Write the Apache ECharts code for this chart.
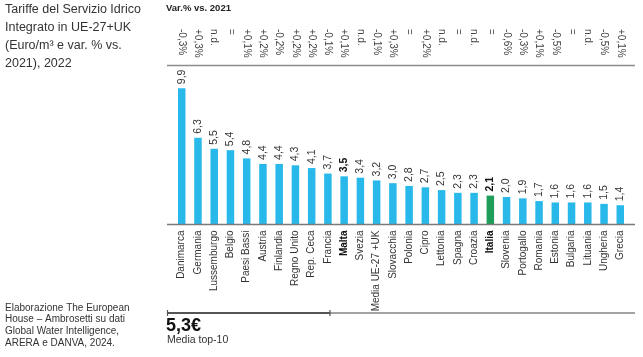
<!DOCTYPE html>
<html>
<head>
<meta charset="utf-8">
<script src="https://cdn.jsdelivr.net/npm/echarts@6/dist/echarts.min.js"></script>
<style>html,body{margin:0;padding:0;background:#fff}#c{width:643px;height:357px}</style>
</head>
<body>
<div id="c"></div>
<script>
const categories = ["Danimarca","Germania","Lussemburgo","Belgio","Paesi Bassi","Austria","Finlandia","Regno Unito","Rep. Ceca","Francia","Malta","Svezia","Media UE-27 +UK","Slovacchia","Polonia","Cipro","Lettonia","Spagna","Croazia","Italia","Slovenia","Portogallo","Romania","Estonia","Bulgaria","Lituania","Ungheria","Grecia"];
const tariffs = [9.9,6.3,5.5,5.4,4.8,4.4,4.4,4.3,4.1,3.7,3.5,3.4,3.2,3.0,2.8,2.7,2.5,2.3,2.3,2.1,2.0,1.9,1.7,1.6,1.6,1.6,1.5,1.4];
const varVs2021 = ["-0,3%","+0,3%","n.d.","=","+0,1%","+0,2%","-0,2%","+0,2%","+0,2%","-0,1%","+0,1%","n.d.","-0,1%","+0,3%","=","+0,2%","n.d.","=","n.d.","=","-0,6%","-0,3%","+0,1%","-0,5%","=","n.d.","-0,5%","+0,1%"];
const boldCats = ["Malta","Italia"];
const highlightCat = "Italia";

const FONT = "'Liberation Sans', Arial, sans-serif";
const BLUE = "#29b8ea";
const GREEN = "#1f9e5a";

const barData = tariffs.map((v, i) => ({
  value: v,
  itemStyle: { color: categories[i] === highlightCat ? GREEN : BLUE },
  label: boldCats.includes(categories[i]) ? { fontWeight: 'bold', color: '#111' } : {}
}));

const chart = echarts.init(document.getElementById('c'), null, { renderer: 'canvas' });
chart.setOption({
  backgroundColor: '#ffffff',
  animation: false,
  grid: { left: 173.6, right: 14.6, top: 65.5, bottom: 132.5, containLabel: false },
  xAxis: [
    {
      type: 'category',
      position: 'bottom',
      data: categories,
      axisLine: { show: false },
      axisTick: { show: false },
      axisLabel: {
        interval: 0,
        rotate: 90,
        margin: 6,
        align: 'right',
        verticalAlign: 'middle',
        fontFamily: FONT,
        fontSize: 10,
        color: '#333',
        formatter: (v) => boldCats.includes(v) ? '{b|' + v + '}' : v,
        rich: { b: { fontWeight: 'bold', fontFamily: FONT, fontSize: 10, color: '#111' } }
      }
    },
    {
      type: 'category',
      position: 'top',
      data: categories,
      axisLine: { show: false },
      axisTick: { show: false },
      axisLabel: {
        interval: 0,
        rotate: 90,
        margin: 36.5,
        align: 'left',
        verticalAlign: 'middle',
        fontFamily: FONT,
        fontSize: 10,
        color: '#444',
        formatter: (v, i) => varVs2021[i]
      }
    }
  ],
  yAxis: { type: 'value', min: 0, max: 11.55, show: false, splitLine: { show: false } },
  series: [{
    type: 'bar',
    data: barData,
    barWidth: 7.5,
    label: {
      show: true,
      position: 'top',
      rotate: 90,
      align: 'left',
      verticalAlign: 'middle',
      distance: 4,
      fontFamily: FONT,
      fontSize: 10.5,
      color: '#333',
      formatter: (p) => p.value.toFixed(1).replace('.', ',')
    }
  }],
  graphic: [
    { type: 'line', shape: { x1: 167, y1: 65.5, x2: 635, y2: 65.5 }, style: { stroke: '#8c8c8c', lineWidth: 1.5 }, z: 10 },
    { type: 'line', shape: { x1: 167, y1: 224.5, x2: 635, y2: 224.5 }, style: { stroke: '#7a7a7a', lineWidth: 1.5 }, z: 10 },
    { type: 'line', shape: { x1: 330, y1: 313, x2: 635, y2: 313 }, style: { stroke: '#a3a3a3', lineWidth: 2 } },
    { type: 'line', shape: { x1: 167, y1: 313, x2: 330, y2: 313 }, style: { stroke: '#555', lineWidth: 2 } },
    { type: 'line', shape: { x1: 167.5, y1: 310, x2: 167.5, y2: 316 }, style: { stroke: '#555', lineWidth: 1.2 } },
    { type: 'line', shape: { x1: 330, y1: 310, x2: 330, y2: 316 }, style: { stroke: '#555', lineWidth: 1.2 } },
    { type: 'text', x: 5, y: 1, style: { text: 'Tariffe del Servizio Idrico\nIntegrato in UE-27+UK\n(Euro/m³ e var. % vs.\n2021), 2022', font: '12.5px ' + FONT, lineHeight: 18, fill: '#333', verticalAlign: 'top' } },
    { type: 'text', x: 166, y: 3.5, style: { text: 'Var.% vs. 2021', font: 'bold 9.5px ' + FONT, fill: '#222', verticalAlign: 'top' } },
    { type: 'text', x: 5, y: 302, style: { text: 'Elaborazione The European\nHouse – Ambrosetti su dati\nGlobal Water Intelligence,\nARERA e DANVA, 2024.', font: '10px ' + FONT, lineHeight: 11.8, fill: '#333', verticalAlign: 'top' } },
    { type: 'text', x: 166, y: 317, style: { text: '5,3€', font: 'bold 18px ' + FONT, fill: '#111', verticalAlign: 'top' } },
    { type: 'text', x: 167, y: 335, style: { text: 'Media top-10', font: '10.5px ' + FONT, fill: '#333', verticalAlign: 'top' } }
  ]
});
</script>
</body>
</html>
